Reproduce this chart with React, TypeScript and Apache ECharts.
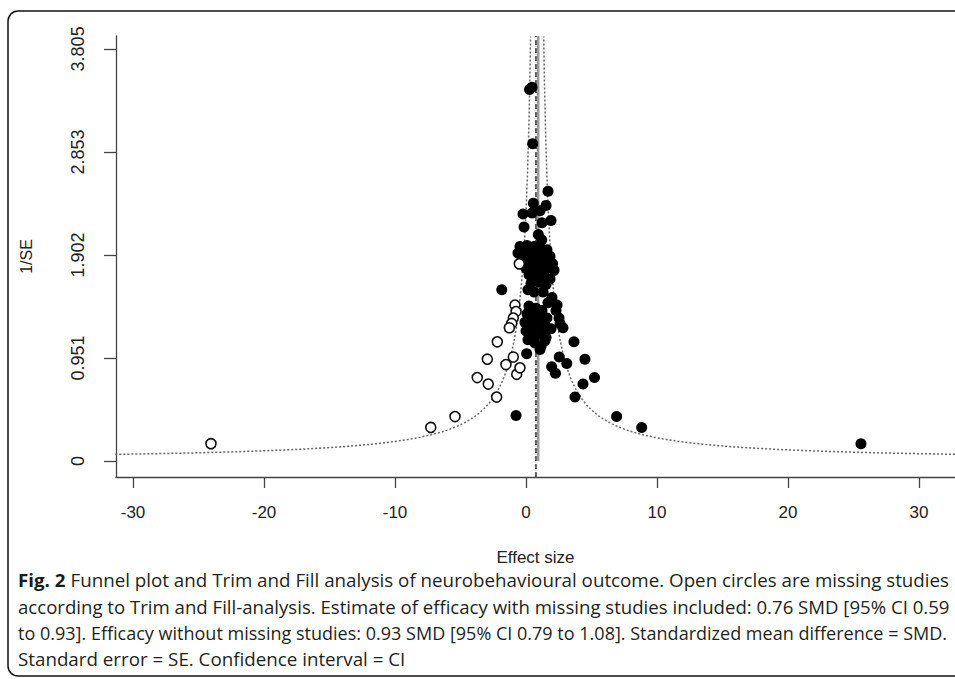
import { useEffect, useRef } from 'react';
import * as echarts from 'echarts';

// Observed studies (filled): [effect size, 1/SE]
const observedStudies: [number, number][] = [
  [0.27, 3.43], [0.46, 3.45], [0.51, 2.93], [1.68, 2.49], [0.56, 2.38], [1.53, 2.36],
  [-0.23, 2.28], [0.46, 2.29], [1.07, 2.31], [1.91, 2.22], [1.22, 2.2], [-0.15, 2.16],
  [0.94, 2.09], [1.2, 2.04],
  [-0.46, 1.98], [0.08, 1.99], [0.61, 1.98], [1.15, 1.96], [1.6, 1.95],
  [-0.61, 1.92], [-0.08, 1.91], [0.38, 1.92], [0.92, 1.9], [1.37, 1.89], [1.83, 1.89],
  [-0.31, 1.86], [0.23, 1.85], [0.76, 1.84], [1.3, 1.85], [2.03, 1.82],
  [0.0, 1.78], [0.53, 1.78], [1.07, 1.77], [1.6, 1.78], [2.14, 1.76],
  [0.23, 1.72], [0.84, 1.71], [1.37, 1.72], [1.83, 1.68],
  [0.38, 1.64], [0.99, 1.65], [1.53, 1.63], [0.15, 1.58], [0.61, 1.56], [1.3, 1.56], [1.98, 1.51],
  [1.68, 1.46], [2.37, 1.44], [2.29, 1.39], [2.52, 1.32], [2.6, 1.27], [2.82, 1.23],
  [0.23, 1.43], [0.76, 1.41], [1.22, 1.39], [0.08, 1.36], [0.53, 1.34], [1.07, 1.33], [1.6, 1.32],
  [-0.08, 1.28], [0.38, 1.26], [0.92, 1.26], [1.45, 1.25], [1.91, 1.22],
  [0.0, 1.2], [0.53, 1.18], [1.07, 1.17], [1.53, 1.14], [1.45, 1.21],
  [0.15, 1.12], [0.69, 1.09], [1.15, 1.06], [1.45, 1.11], [0.05, 0.99], [1.07, 1.03],
  [3.66, 1.1], [2.54, 0.96], [3.11, 0.9], [1.96, 0.87], [2.25, 0.81], [4.5, 0.94],
  [5.23, 0.77], [4.35, 0.71], [3.74, 0.59], [-0.76, 0.42], [6.92, 0.41], [8.83, 0.31],
  [25.57, 0.16], [-1.85, 1.58],
];

// Missing studies imputed by Trim and Fill (open circles)
const missingStudies: [number, number][] = [
  [-24.05, 0.16], [-7.27, 0.31], [-5.42, 0.41], [-3.72, 0.77], [-2.95, 0.94], [-2.88, 0.71],
  [-2.24, 0.59], [-2.19, 1.1], [-1.53, 0.89], [-0.97, 0.96], [-0.71, 0.8], [-0.46, 0.86],
  [-0.84, 1.44], [-0.76, 1.38], [-0.97, 1.32], [-1.09, 1.27], [-1.27, 1.23], [-0.51, 1.82],
];

const yTickValues = [0, 0.951, 1.902, 2.853, 3.805];
const xTickValues = [-30, -20, -10, 0, 10, 20, 30];

const estimateWithMissing = 0.76;
const estimateWithoutMissing = 0.93;
const funnelCentre = 0.85;
const zCrit = 1.96;

const X_MIN = -31.3;
const X_MAX = 32.75;
const Y_MIN = -0.148;
const Y_MAX = 3.924;

const captionBold = 'Fig. 2';
const captionLines = [
  ' Funnel plot and Trim and Fill analysis of neurobehavioural outcome. Open circles are missing studies',
  'according to Trim and Fill-analysis. Estimate of efficacy with missing studies included: 0.76 SMD [95% CI 0.59',
  'to 0.93]. Efficacy without missing studies: 0.93 SMD [95% CI 0.79 to 1.08]. Standardized mean difference = SMD.',
  'Standard error = SE. Confidence interval = CI',
];

export default function App() {
  const ref = useRef<HTMLDivElement>(null);

  useEffect(() => {
    document.body.style.margin = '0';
    if (!ref.current) return;
    const chart = echarts.init(ref.current, undefined, { renderer: 'svg' });

    // pseudo-confidence funnel boundaries
    const left: [number, number][] = [];
    const right: [number, number][] = [];
    for (let y = 0.04; y <= Y_MAX + 1e-9; y += 0.005) {
      left.push([funnelCentre - zCrit / y, y]);
      right.push([funnelCentre + zCrit / y, y]);
    }
    left.push([funnelCentre - zCrit / Y_MAX, Y_MAX]);
    right.push([funnelCentre + zCrit / Y_MAX, Y_MAX]);

    // caption measurement
    const canvas = document.createElement('canvas');
    const ctx = canvas.getContext('2d')!;
    const FS = 18;
    const FAM = '"Open Sans"';
    const meas = (t: string, bold: boolean) => {
      ctx.font = `${bold ? 'bold ' : ''}${FS}px ${FAM}`;
      return ctx.measureText(t).width;
    };
    const targets = [932, 932, 930, 0];
    const lineYs = [580, 607, 633, 659];
    const boldW = meas(captionBold, true);
    const w0 = boldW + meas(captionLines[0], false);
    const s0 = targets[0] / w0;
    const graphics: any[] = [
      {
        type: 'rect',
        shape: { x: 8, y: 11, width: 1000, height: 665, r: 10 },
        style: { fill: 'none', stroke: '#111', lineWidth: 1.5 },
        silent: true,
      },
      {
        type: 'text', x: 18, y: lineYs[0], scaleX: s0,
        style: { text: captionBold, fontSize: FS, fontFamily: 'Open Sans', fontWeight: 'bold', fill: '#1a1a1a', align: 'left', verticalAlign: 'middle' },
      },
      {
        type: 'text', x: 18 + boldW * s0, y: lineYs[0], scaleX: s0,
        style: { text: captionLines[0], fontSize: FS, fontFamily: 'Open Sans', fill: '#231f20', align: 'left', verticalAlign: 'middle' },
      },
    ];
    for (let i = 1; i < 4; i++) {
      const w = meas(captionLines[i], false);
      const s = targets[i] > 0 ? targets[i] / w : s0;
      graphics.push({
        type: 'text', x: 18, y: lineYs[i], scaleX: s,
        style: { text: captionLines[i], fontSize: FS, fontFamily: 'Open Sans', fill: '#231f20', align: 'left', verticalAlign: 'middle' },
      });
    }

    const axisFont = 'Liberation Sans';
    chart.setOption({
      animation: false,
      backgroundColor: '#fff',
      grid: { left: 116, top: 36, right: 0, bottom: 202, outerBoundsMode: 'none', containLabel: false },
      xAxis: {
        type: 'value',
        min: X_MIN,
        max: X_MAX,
        name: 'Effect size',
        nameLocation: 'middle',
        nameGap: 72,
        nameTextStyle: { fontFamily: axisFont, fontSize: 17, color: '#222' },
        axisLine: { show: true, onZero: false, lineStyle: { color: '#444', width: 1.3 } },
        axisTick: { show: true, length: 11, lineStyle: { color: '#444', width: 1.3 }, customValues: xTickValues },
        axisLabel: { fontFamily: axisFont, fontSize: 17, color: '#222', margin: 27, customValues: xTickValues, formatter: (v: number) => String(v) },
        splitLine: { show: false },
      },
      yAxis: {
        type: 'value',
        min: Y_MIN,
        max: Y_MAX,
        name: '1/SE',
        nameLocation: 'middle',
        nameRotate: 90,
        nameGap: 82,
        nameTextStyle: { fontFamily: axisFont, fontSize: 16, color: '#222' },
        axisLine: { show: true, onZero: false, lineStyle: { color: '#444', width: 1.3 } },
        axisTick: { show: true, length: 12, lineStyle: { color: '#444', width: 1.3 }, customValues: yTickValues },
        axisLabel: {
          fontFamily: axisFont, fontSize: 18, color: '#222', rotate: 90, margin: 29,
          customValues: yTickValues,
          formatter: (v: number) => (v === 0 ? '0' : v.toFixed(3)),
        },
        splitLine: { show: false },
      },
      graphic: graphics,
      series: [
        {
          type: 'line', data: left, showSymbol: false, symbol: 'none', silent: true,
          lineStyle: { type: [2, 2], color: '#666', width: 1.5 }, z: 1,
        },
        {
          type: 'line', data: right, showSymbol: false, symbol: 'none', silent: true,
          lineStyle: { type: [2, 2], color: '#666', width: 1.5 }, z: 1,
        },
        {
          type: 'line', data: [[estimateWithoutMissing, 0], [estimateWithoutMissing, Y_MAX]], symbol: 'none', silent: true,
          lineStyle: { type: 'solid', color: '#9a9a9a', width: 2.5 }, z: 1,
        },
        {
          type: 'line', data: [[estimateWithMissing, Y_MIN], [estimateWithMissing, Y_MAX]], symbol: 'none', silent: true,
          lineStyle: { type: [5, 3], color: '#333', width: 1.5 }, z: 2,
        },
        {
          type: 'scatter', data: observedStudies, symbol: 'circle', symbolSize: 11,
          itemStyle: { color: '#000', opacity: 1 }, z: 3,
        },
        {
          type: 'scatter', data: missingStudies, symbol: 'circle', symbolSize: 10,
          itemStyle: { color: '#fff', borderColor: '#111', borderWidth: 1.6, opacity: 1 }, z: 4,
        },
      ],
    });

    return () => chart.dispose();
  }, []);

  return <div ref={ref} style={{ width: 955, height: 679 }} />;
}
